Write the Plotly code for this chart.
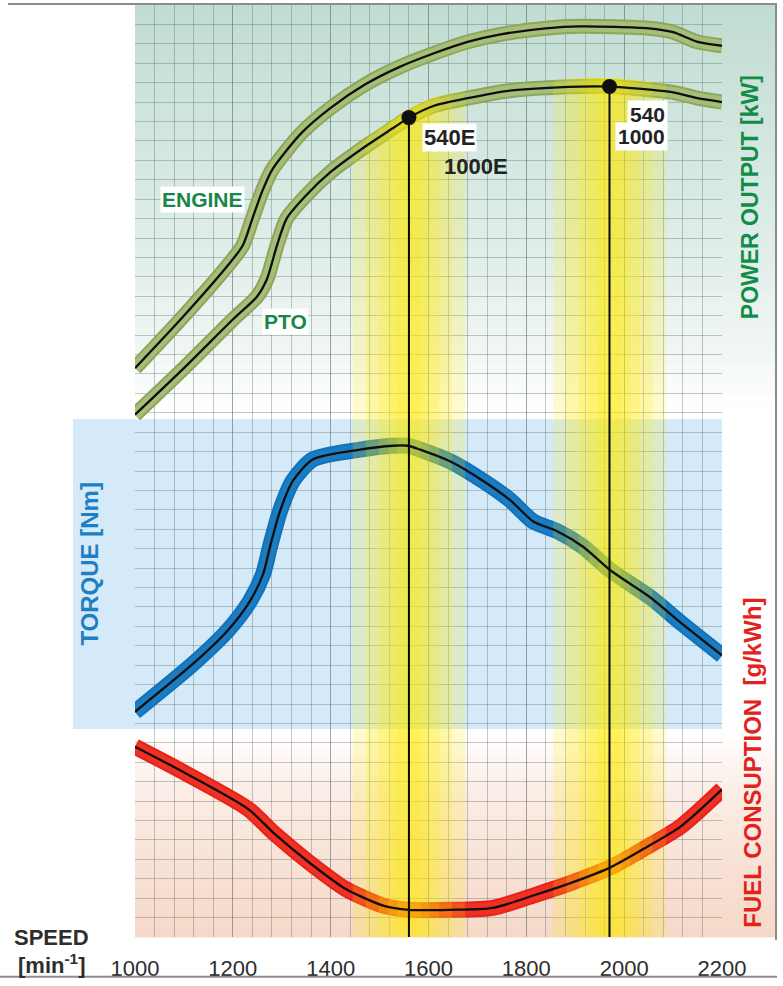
import numpy as np
import plotly.graph_objects as go

# ---------------- data (y in chart grid units) ----------------
speed_ticks = [1000, 1200, 1400, 1600, 1800, 2000, 2200]

engine_rpm = [1000, 1100, 1190, 1220, 1240, 1260, 1280, 1340, 1400, 1470, 1540, 1610,
              1680, 1750, 1840, 1910, 2050, 2100, 2150, 2200]
engine_kw = [29.3, 32.0, 34.6, 35.6, 37.0, 38.4, 39.5, 41.4, 42.7, 43.9, 44.8, 45.5,
             46.1, 46.5, 46.8, 46.9, 46.8, 46.6, 46.1, 45.9]

pto_rpm = [1000, 1100, 1200, 1250, 1270, 1290, 1310, 1350, 1400, 1470, 1530, 1560,
           1610, 1680, 1770, 1910, 1970, 2100, 2150, 2200]
pto_kw = [26.9, 29.3, 31.8, 33.0, 33.9, 35.6, 37.0, 38.2, 39.4, 40.7, 41.7, 42.2,
          42.8, 43.2, 43.6, 43.8, 43.8, 43.5, 43.2, 43.0]

torque_rpm = [1000, 1120, 1190, 1235, 1262, 1276, 1296, 1323, 1364, 1460, 1527, 1558,
              1583, 1644, 1711, 1767, 1814, 1863, 1916, 1971, 2053, 2120, 2200]
torque_nm = [11.6, 14.1, 15.8, 17.3, 18.7, 20.1, 21.9, 23.5, 24.6, 25.1, 25.3, 25.3,
             25.1, 24.5, 23.5, 22.5, 21.4, 20.9, 20.1, 18.9, 17.5, 16.1, 14.5]

fuel_rpm = [1000, 1106, 1231, 1286, 1358, 1429, 1509, 1560, 1642, 1732, 1822, 1893,
            1973, 2044, 2116, 2200]
fuel_gkwh = [9.8, 8.4, 6.6, 5.3, 3.8, 2.5, 1.6, 1.4, 1.4, 1.5, 2.2, 2.8,
             3.6, 4.6, 5.7, 7.6]

pto_points_rpm = [1560, 1970]
pto_labels_1 = ["540E", "1000E"]
pto_labels_2 = ["540", "1000"]

# ---------------- geometry helpers ----------------
W, H = 783, 986
ML, MR, MT, MB = 135, 61, 5, 45
PW, PH = W - ML - MR, H - MT - MB
FONT = "Liberation Sans, Arial, sans-serif"


def pxx(px):
    return (px - ML) / PW


def pxy(py):
    return (H - MB - py) / PH


def lerp_color(stops, py):
    for (y0, c0), (y1, c1) in zip(stops[:-1], stops[1:]):
        if y0 <= py <= y1:
            t = (py - y0) / (y1 - y0)
            return tuple(int(round(a + (b - a) * t)) for a, b in zip(c0, c1))
    return stops[-1][1]


shapes = []

# top (power) section: teal-green fading to white
top_stops = [(5, (192, 220, 209)), (120, (207, 229, 221)), (250, (224, 238, 233)),
             (350, (240, 246, 244)), (412, (255, 255, 255))]
n = 40
edges = np.linspace(5, 418, n + 1)
for a, b in zip(edges[:-1], edges[1:]):
    c = lerp_color(top_stops, (a + b) / 2)
    shapes.append(dict(type="rect", xref="paper", yref="paper", layer="below",
                       x0=pxx(135), x1=pxx(776), y0=pxy(b + 0.5), y1=pxy(a),
                       fillcolor="rgb(%d,%d,%d)" % c, line=dict(width=0)))

# middle (torque) section: light blue incl. label box
shapes.append(dict(type="rect", xref="paper", yref="paper", layer="below",
                   x0=pxx(73), x1=pxx(722), y0=pxy(732), y1=pxy(421),
                   fillcolor="rgb(212,234,248)", line=dict(width=0)))

# bottom (fuel) section: white to peach
bot_stops = [(736, (255, 255, 255)), (800, (251, 236, 228)), (941, (245, 216, 199))]
edges = np.linspace(736, 941, 26)
for a, b in zip(edges[:-1], edges[1:]):
    c = lerp_color(bot_stops, (a + b) / 2)
    shapes.append(dict(type="rect", xref="paper", yref="paper", layer="below",
                       x0=pxx(135), x1=pxx(776), y0=pxy(b + 0.5), y1=pxy(a),
                       fillcolor="rgb(%d,%d,%d)" % c, line=dict(width=0)))

# frame lines
frame = "rgb(140,140,140)"
shapes += [
    dict(type="line", xref="paper", yref="paper", x0=pxx(8), x1=pxx(777), y0=pxy(4), y1=pxy(4),
         line=dict(color=frame, width=2), layer="above"),
    dict(type="line", xref="paper", yref="paper", x0=pxx(776), x1=pxx(776), y0=pxy(4), y1=pxy(944),
         line=dict(color=frame, width=2), layer="above"),
    dict(type="line", xref="paper", yref="paper", x0=pxx(0), x1=pxx(777), y0=pxy(981), y1=pxy(981),
         line=dict(color=frame, width=2), layer="above"),
]

fig = go.Figure()


def band(x, y, outer, inner, wo=15, wi=11):
    fig.add_trace(go.Scatter(x=x, y=y, mode="lines", hoverinfo="skip", showlegend=False,
                             line=dict(color=outer, width=wo, shape="spline", smoothing=0.7)))
    if inner:
        fig.add_trace(go.Scatter(x=x, y=y, mode="lines", hoverinfo="skip", showlegend=False,
                                 line=dict(color=inner, width=wi, shape="spline", smoothing=0.7)))


band(engine_rpm, engine_kw, "rgb(140,166,92)", "rgb(166,190,120)")
band(pto_rpm, pto_kw, "rgb(140,166,92)", "rgb(166,190,120)")
band(torque_rpm, torque_nm, "rgb(20,114,184)", "rgb(26,124,194)", 16, 12)
band(fuel_rpm, fuel_gkwh, "rgb(228,36,28)", "rgb(240,48,34)", 16, 12)

# yellow glow bands (drawn over coloured bands, under black centre lines)
half_widths = [115, 88, 62, 42, 24]
for c in pto_points_rpm:
    for w in half_widths:
        xs = np.linspace(c - w, c + w, 25)
        top = np.interp(xs, pto_rpm, pto_kw) + 0.45
        px = np.concatenate([[c - w], xs, [c + w]])
        py = np.concatenate([[0], top, [0]])
        fig.add_trace(go.Scatter(x=px, y=py, mode="lines", fill="toself",
                                 fillcolor="rgba(255,232,0,0.19)", line=dict(width=0),
                                 hoverinfo="skip", showlegend=False))

# black centre lines
for xs, ys in [(engine_rpm, engine_kw), (pto_rpm, pto_kw), (torque_rpm, torque_nm),
               (fuel_rpm, fuel_gkwh)]:
    fig.add_trace(go.Scatter(x=xs, y=ys, mode="lines", hoverinfo="skip", showlegend=False,
                             line=dict(color="rgb(15,15,15)", width=2.3, shape="spline",
                                       smoothing=0.7)))

# vertical lines and markers at the PTO speeds
pto_at = np.interp(pto_points_rpm, pto_rpm, pto_kw)
for c, v in zip(pto_points_rpm, pto_at):
    fig.add_trace(go.Scatter(x=[c, c], y=[0, v], mode="lines", hoverinfo="skip",
                             showlegend=False, line=dict(color="rgb(10,10,10)", width=2)))
fig.add_trace(go.Scatter(x=pto_points_rpm, y=pto_at, mode="markers", hoverinfo="skip",
                         showlegend=False, marker=dict(color="rgb(15,15,15)", size=15)))

ann = []
green = "rgb(22,135,72)"
dark = "rgb(35,35,35)"
C = dict(xanchor="center", yanchor="middle", showarrow=False)
ann.append(dict(x=1137, y=38.0, text="<b>ENGINE</b>", bgcolor="white", borderpad=1,
                font=dict(family=FONT, size=21, color=green), **C))
ann.append(dict(x=1307, y=31.7, text="<b>PTO</b>", bgcolor="white", borderpad=1,
                font=dict(family=FONT, size=21, color=green), **C))
ann.append(dict(x=1642, y=41.2, text="<b>%s</b>" % pto_labels_1[0], bgcolor="white",
                borderpad=1, font=dict(family=FONT, size=22, color=dark), **C))
ann.append(dict(x=1697, y=39.7, text="<b>%s</b>" % pto_labels_1[1],
                font=dict(family=FONT, size=22, color=dark), **C))
R = dict(xanchor="right", yanchor="middle", showarrow=False)
ann.append(dict(x=2090, y=42.35, text="<b>%s</b>" % pto_labels_2[0], bgcolor="white",
                borderpad=2, font=dict(family=FONT, size=21, color=dark), **R))
ann.append(dict(x=2090, y=41.25, text="<b>%s</b>" % pto_labels_2[1], bgcolor="white",
                borderpad=2, font=dict(family=FONT, size=21, color=dark), **R))

ann.append(dict(xref="paper", yref="paper", x=pxx(750), y=pxy(198), textangle=-90,
                text="<b>POWER OUTPUT [kW]</b>",
                font=dict(family=FONT, size=23, color="rgb(18,140,72)"), **C))
ann.append(dict(xref="paper", yref="paper", x=pxx(753), y=pxy(766), textangle=-90,
                text="<b>FUEL CONSUPTION  [g/kWh]</b>",
                font=dict(family=FONT, size=24, color="rgb(226,34,27)"), **C))
ann.append(dict(xref="paper", yref="paper", x=pxx(90), y=pxy(566), textangle=-90,
                text="<b>TORQUE [Nm]</b>",
                font=dict(family=FONT, size=24, color="rgb(30,128,195)"), **C))
ann.append(dict(xref="paper", yref="paper", x=pxx(51), y=pxy(941), text="<b>SPEED</b>",
                font=dict(family=FONT, size=22, color="rgb(45,45,45)"), **C))
ann.append(dict(xref="paper", yref="paper", x=pxx(51), y=pxy(968),
                text="<b>[min<sup>-1</sup>]</b>",
                font=dict(family=FONT, size=22, color="rgb(45,45,45)"), **C))

grid = "rgba(95,110,110,0.38)"
fig.update_layout(
    width=W, height=H, margin=dict(l=ML, r=MR, t=MT, b=MB),
    paper_bgcolor="white", plot_bgcolor="rgba(0,0,0,0)",
    shapes=shapes, annotations=ann, showlegend=False,
    xaxis=dict(range=[1000, 2200], tickvals=speed_ticks, showgrid=True, gridcolor=grid,
               gridwidth=1, zeroline=False, showline=False, ticks="outside", ticklen=12,
               tickcolor="rgba(0,0,0,0)", tickprefix="<b>", ticksuffix="</b>",
               tickfont=dict(family=FONT, size=22, color="rgb(45,45,45)"),
               minor=dict(dtick=40, tick0=1000, showgrid=True, gridcolor=grid, gridwidth=1)),
    yaxis=dict(range=[0, 48], dtick=1, showgrid=True, gridcolor=grid, gridwidth=1,
               zeroline=False, showline=False, showticklabels=False),
)

fig.write_html("out.html", config={"displayModeBar": False},
               post_script="document.body.style.margin='0px';")
